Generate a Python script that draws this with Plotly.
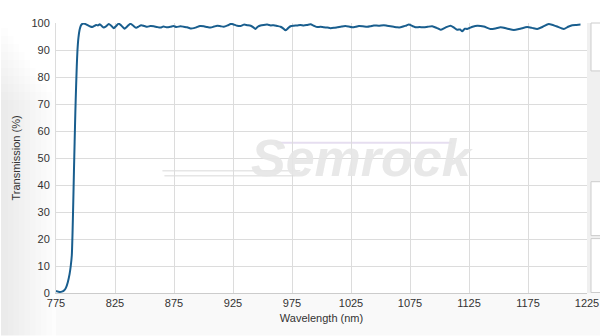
import plotly.graph_objects as go

wavelength = [775, 776, 778, 780, 782, 783.5, 785, 786.5, 787.5, 788.4, 789, 789.6, 790.2, 790.8,
              791.4, 792, 792.6, 793.2, 794, 795, 796, 797, 798.6, 800.5, 802.5, 804, 805.7,
              807.5, 809, 810.5, 812.1, 813.8, 815.5, 817.5, 819.7, 821.8, 824, 826, 828.2,
              830.5, 833, 835.5, 838, 840.5, 843, 845, 847.2, 849.8, 852.3, 855, 857.9, 860.7,
              863.6, 866, 868.5, 872, 874.5, 877, 880.5, 883.3, 886.2, 889, 891.8, 894, 897,
              900.3, 903, 906, 909, 911.6, 914.4, 917.2, 920.5, 922.9, 924.3, 926.5, 928.6,
              931.4, 934.2, 937, 940, 942, 944, 946, 948.3, 951, 954, 957, 959.6, 962.5, 965.3,
              967.5, 969.5, 971.5, 973.7, 976.5, 979.4, 982, 985, 988, 990.7, 993.5, 996.4,
              999, 1002, 1005, 1007.6, 1010.5, 1013.3, 1017, 1020.3, 1023, 1026, 1029, 1031.6,
              1035, 1038.7, 1041.5, 1044.3, 1048.5, 1052.8, 1055.5, 1058.5, 1061.3, 1064.1,
              1067, 1069.8, 1072, 1074, 1077, 1079.7, 1083, 1086.7, 1090, 1093.8, 1097.5,
              1100.9, 1105, 1109.3, 1112, 1115, 1117.5, 1119.2, 1121.5, 1123.5, 1128, 1132,
              1137.5, 1143.2, 1147.5, 1151.7, 1157, 1163, 1168.5, 1174.3, 1178.5, 1182.8,
              1187.5, 1192.6, 1199, 1205.3, 1209, 1212.5, 1216, 1219.5]
transmission = [0.8, 0.6, 0.4, 0.5, 1.0, 2.0, 4.0, 7.0, 10.0, 14.0, 22.0, 33.0, 45.0, 56.0,
                67.0, 76.0, 84.0, 90.0, 94.5, 97.5, 99.0, 99.6, 99.8, 99.5, 99.0, 98.7, 98.5,
                98.9, 99.3, 99.1, 99.5, 98.9, 98.3, 98.8, 99.6, 99.0, 98.1, 98.9, 99.8,
                99.0, 97.9, 98.8, 99.7, 99.0, 98.2, 98.7, 99.2, 98.9, 98.6, 98.9, 98.8, 98.5,
                98.3, 98.7, 98.4, 98.6, 98.9, 98.5, 98.8, 98.6, 98.4, 98.0, 98.1, 98.4, 98.9,
                98.8, 98.5, 98.3, 98.7, 99.0, 98.8, 98.6, 99.1, 99.6, 99.6, 99.3, 99.0,
                98.9, 99.4, 99.2, 99.0, 98.5, 97.8, 98.6, 99.1, 99.3, 99.4, 99.1, 99.2, 98.9, 98.6,
                98.0, 97.3, 98.0, 98.8, 99.0, 99.1, 99.3, 99.1, 99.3, 99.5, 99.0, 98.5,
                98.6, 98.4, 98.3, 98.1, 98.2, 98.4, 98.7, 98.9, 98.7, 98.4, 98.6, 98.9,
                98.8, 98.6, 98.8, 99.1, 99.0, 99.2, 99.0, 98.8, 98.6, 98.4,
                98.4, 98.8, 99.1, 99.4, 98.9, 98.4, 98.5, 98.4, 98.6, 98.8, 98.2,
                97.5, 98.3, 99.0, 98.4, 97.5, 97.6, 96.9, 97.9, 97.8, 98.6, 99.0,
                98.7, 97.8, 98.0, 98.4, 98.0, 97.4, 97.9, 98.5, 98.2, 97.8,
                98.6, 99.6, 98.8, 97.8, 98.6, 99.2, 99.3, 99.4]

x_ticks = [775, 825, 875, 925, 975, 1025, 1075, 1125, 1175, 1225]
y_ticks = [0, 10, 20, 30, 40, 50, 60, 70, 80, 90, 100]

L, R, T, B = 55.5, 587, 23, 293.5
PW, PH = R - L, B - T

def px(x):
    return (x - L) / PW

def py(y):
    return (B - y) / PH

fig = go.Figure()
fig.add_trace(go.Scatter(x=wavelength, y=transmission, mode="lines",
                         line=dict(color="#195e8e", width=2, shape="spline", smoothing=0.6),
                         hoverinfo="skip", showlegend=False))

shapes = []
# soft left/bottom gradient background (overlapping translucent layers)
nlay = 10
for k in range(1, nlay + 1):
    shapes.append(dict(type="rect", xref="paper", yref="paper", layer="below",
                       x0=px(0), x1=px(L * k / nlay + 2),
                       y0=py(336), y1=py(20 + 8 * k),
                       fillcolor="rgba(0,0,0,0.009)", line=dict(width=0)))
# bottom strip
shapes.append(dict(type="rect", xref="paper", yref="paper", layer="below",
                   x0=px(L), x1=px(600), y0=py(336), y1=py(B), fillcolor="#f9f9f9", line=dict(width=0)))
# right side panel
shapes.append(dict(type="rect", xref="paper", yref="paper", layer="below",
                   x0=px(R), x1=px(600), y0=py(B), y1=py(T), fillcolor="#f0f0f0", line=dict(width=0)))
for (t, b) in [(23, 71), (182, 236), (239, 293)]:
    shapes.append(dict(type="rect", xref="paper", yref="paper", layer="above",
                       x0=px(591), x1=px(603), y0=py(b), y1=py(t),
                       fillcolor="#ffffff", line=dict(color="#cccccc", width=1)))
# watermark lines
shapes.append(dict(type="line", xref="paper", yref="paper", layer="below",
                   x0=px(162), x1=px(300), y0=py(171), y1=py(171),
                   line=dict(color="#e6e6e6", width=1.5)))
shapes.append(dict(type="line", xref="paper", yref="paper", layer="below",
                   x0=px(164), x1=px(295), y0=py(176), y1=py(176),
                   line=dict(color="#e6e6e6", width=1.5)))
shapes.append(dict(type="line", xref="paper", yref="paper", layer="below",
                   x0=px(275), x1=px(452), y0=py(143), y1=py(143),
                   line=dict(color="#e6def0", width=2)))

fig.update_layout(
    width=600, height=336,
    margin=dict(l=L, r=600 - R, t=T, b=336 - B, autoexpand=False),
    paper_bgcolor="#ffffff", plot_bgcolor="#ffffff",
    shapes=shapes,
    font=dict(family="Liberation Sans, Arial, sans-serif", size=11, color="#333333"),
    xaxis=dict(range=[775, 1225], tickvals=x_ticks, ticktext=[str(v) for v in x_ticks],
               showgrid=True, gridcolor="#dcdcdc", gridwidth=1, zeroline=False,
               showline=True, linecolor="#cccccc", linewidth=1, ticks="", automargin=False,
               tickfont=dict(size=11, color="#333333"),
               title=dict(text="Wavelength (nm)", font=dict(size=11, color="#333333"), standoff=6)),
    yaxis=dict(range=[0, 100], tickvals=y_ticks, ticktext=[str(v) for v in y_ticks],
               showgrid=True, gridcolor="#dcdcdc", gridwidth=1, zeroline=False,
               showline=True, linecolor="#dcdcdc", linewidth=1, ticks="", automargin=False,
               tickfont=dict(size=11, color="#333333"), ticklabelstandoff=3,
               title=dict(text="Transmission (%)", font=dict(size=11, color="#333333"), standoff=8)),
    annotations=[dict(text="<b><i>Semrock</i></b>", xref="paper", yref="paper",
                      x=px(362), y=py(158), showarrow=False,
                      font=dict(family="Liberation Sans, Arial, sans-serif", size=52, color="#e6e6e6"),
                      xanchor="center", yanchor="middle", opacity=0.9)],
)

fig.write_html("out.html")
